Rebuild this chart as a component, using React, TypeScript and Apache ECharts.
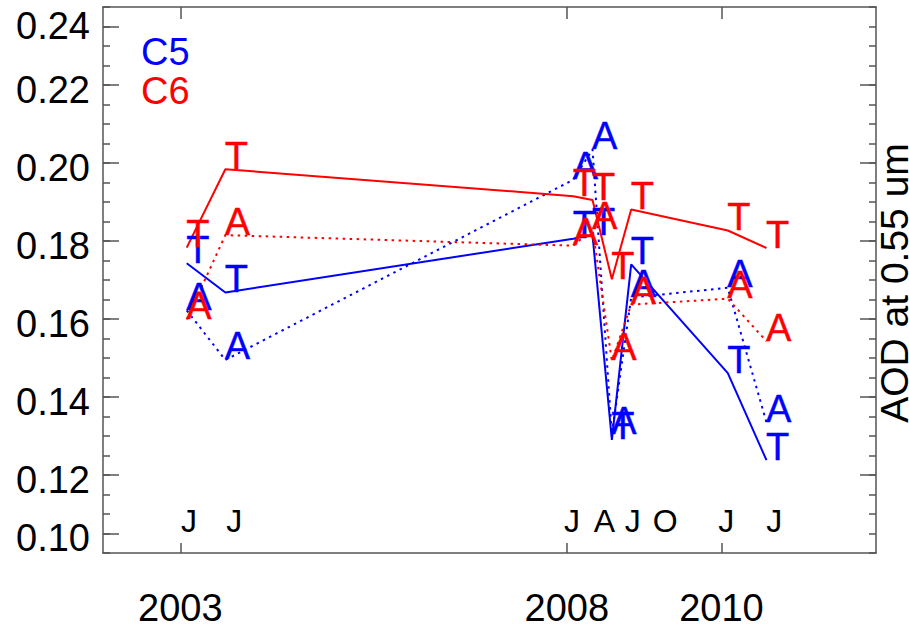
import React, { useEffect, useRef } from "react";
import * as echarts from "echarts";

// ---- data ----
const DATES = [2003.083, 2003.583, 2008.083, 2008.333, 2008.583, 2008.833, 2010.083, 2010.583];
const C5_T = [0.1743, 0.1668, 0.1806, 0.1815, 0.129, 0.174, 0.1461, 0.1238];
const C5_A = [0.1622, 0.1495, 0.1957, 0.2035, 0.1305, 0.1655, 0.168, 0.1335];
const C6_T = [0.1783, 0.1984, 0.1915, 0.1905, 0.1702, 0.1881, 0.1827, 0.1782];
const C6_A = [0.1599, 0.1815, 0.1788, 0.183, 0.1493, 0.1637, 0.1652, 0.1543];

const X_TICKS = [2003, 2008, 2010];
const Y_MAJOR_LEFT = [0.105, 0.12, 0.14, 0.16, 0.18, 0.2, 0.22, 0.235];
const Y_MAJOR_RIGHT = [0.12, 0.14, 0.16, 0.18, 0.2, 0.22];
const Y_LABEL_POS = [0.1038, 0.1188, 0.1388, 0.1588, 0.1788, 0.1988, 0.2188, 0.2352];
const Y_LABEL_TEXT = ["0.10", "0.12", "0.14", "0.16", "0.18", "0.20", "0.22", "0.24"];

const MONTH_X = [2003.12, 2003.705, 2008.075, 2008.492, 2008.86, 2009.28, 2010.07, 2010.69];
const MONTH_TEXT = ["J", "J", "J", "A", "J", "O", "J", "J"];
const MONTH_Y = 0.1053;

const BLUE = "#0000ff";
const RED = "#ff0000";
const FONT = "'Liberation Sans', Arial, Helvetica, sans-serif";
const AXIS_COLOR = "#555555";

function pts(vals: number[]) {
  return DATES.map((d, i) => [d, vals[i]]);
}

function lineSeries(name: string, vals: number[], color: string, dotted: boolean) {
  return {
    name,
    type: "line",
    data: pts(vals),
    showSymbol: false,
    symbol: "none",
    lineStyle: { color, width: 2, type: dotted ? [2.5, 4.5] : "solid" },
    xAxisIndex: 0,
    yAxisIndex: 0,
    z: 2,
  };
}

function letterSeries(name: string, vals: number[], color: string, letter: string) {
  return {
    name,
    type: "scatter",
    data: pts(vals),
    symbolSize: 1,
    itemStyle: { color: "transparent", opacity: 1 },
    xAxisIndex: 0,
    yAxisIndex: 0,
    z: 5,
    label: {
      show: true,
      formatter: () => letter,
      position: [0, 0],
      align: "left",
      verticalAlign: "bottom",
      offset: [0, 6],
      color,
      opacity: 1,
      fontSize: 38,
      fontFamily: FONT,
      textBorderWidth: 0.4,
      textBorderColor: color,
    },
  };
}

export default function App() {
  const ref = useRef<HTMLDivElement>(null);
  useEffect(() => {
    if (!ref.current) return;
    const chart = echarts.init(ref.current, undefined, { renderer: "svg" });
    const tickStyle = { color: AXIS_COLOR, width: 1.5 };
    const lineStyleAxis = { show: true, onZero: false, lineStyle: { color: AXIS_COLOR, width: 1.5 } };
    const option: any = {
      animation: false,
      grid: { left: 103, right: 33, top: 7, bottom: 74 },
      xAxis: [
        {
          type: "value",
          min: 2002,
          max: 2012,
          position: "bottom",
          splitLine: { show: false },
          axisLine: lineStyleAxis,
          axisTick: { show: true, inside: true, length: 10, customValues: X_TICKS, lineStyle: tickStyle },
          axisLabel: {
            show: true,
            customValues: X_TICKS,
            formatter: (v: number) => String(Math.round(v)),
            fontSize: 38,
            color: "#000",
            margin: 36,
            fontFamily: FONT,
          },
        },
        {
          type: "value",
          min: 2002,
          max: 2012,
          position: "top",
          splitLine: { show: false },
          axisLine: lineStyleAxis,
          axisTick: { show: true, inside: true, length: 12, customValues: X_TICKS, lineStyle: tickStyle },
          axisLabel: { show: false },
        },
      ],
      yAxis: [
        {
          type: "value",
          min: 0.1,
          max: 0.24,
          position: "left",
          splitLine: { show: false },
          axisLine: lineStyleAxis,
          axisTick: { show: true, inside: true, length: 16, customValues: Y_MAJOR_LEFT, lineStyle: tickStyle },
          axisLabel: {
            show: true,
            customValues: Y_LABEL_POS,
            formatter: (v: number) => {
              let best = 0;
              Y_LABEL_POS.forEach((p, i) => {
                if (Math.abs(p - v) < Math.abs(Y_LABEL_POS[best] - v)) best = i;
              });
              return Y_LABEL_TEXT[best];
            },
            fontSize: 38,
            color: "#000",
            margin: 13,
            fontFamily: FONT,
          },
        },
        {
          type: "value",
          min: 0.1,
          max: 0.24,
          interval: 0.005,
          position: "left",
          splitLine: { show: false },
          axisLine: { show: false },
          axisTick: { show: true, inside: true, length: 7, lineStyle: tickStyle },
          axisLabel: { show: false },
        },
        {
          type: "value",
          min: 0.1,
          max: 0.24,
          position: "right",
          splitLine: { show: false },
          axisLine: lineStyleAxis,
          axisTick: { show: true, inside: true, length: 16, customValues: Y_MAJOR_RIGHT, lineStyle: tickStyle },
          axisLabel: { show: false },
        },
        {
          type: "value",
          min: 0.1,
          max: 0.24,
          interval: 0.005,
          position: "right",
          splitLine: { show: false },
          axisLine: { show: false },
          axisTick: { show: true, inside: true, length: 7, lineStyle: tickStyle },
          axisLabel: { show: false },
        },
      ],
      series: [
        lineSeries("C5 T", C5_T, BLUE, false),
        lineSeries("C5 A", C5_A, BLUE, true),
        lineSeries("C6 T", C6_T, RED, false),
        lineSeries("C6 A", C6_A, RED, true),
        letterSeries("C5 T letters", C5_T, BLUE, "T"),
        letterSeries("C5 A letters", C5_A, BLUE, "A"),
        letterSeries("C6 T letters", C6_T, RED, "T"),
        letterSeries("C6 A letters", C6_A, RED, "A"),
        {
          name: "months",
          type: "scatter",
          data: MONTH_X.map((x) => [x, MONTH_Y]),
          symbolSize: 1,
          itemStyle: { color: "transparent", opacity: 1 },
          xAxisIndex: 0,
          yAxisIndex: 0,
          label: {
            show: true,
            formatter: (p: any) => MONTH_TEXT[p.dataIndex],
            position: [0, 0],
            align: "center",
            verticalAlign: "bottom",
            offset: [0, 5],
            color: "#000",
            opacity: 1,
            fontSize: 32,
            fontFamily: FONT,
          },
        },
      ],
      graphic: [
        {
          type: "text",
          left: 141,
          top: 33,
          style: { text: "C5", fill: BLUE, fontSize: 38, fontFamily: FONT },
        },
        {
          type: "text",
          left: 141,
          top: 72,
          style: { text: "C6", fill: RED, fontSize: 38, fontFamily: FONT },
        },
        {
          type: "text",
          x: 894,
          y: 283,
          rotation: Math.PI / 2,
          style: {
            text: "AOD at 0.55 um",
            fill: "#000",
            fontSize: 39,
            fontFamily: FONT,
            align: "center",
            verticalAlign: "middle",
          },
        },
      ],
    };
    chart.setOption(option);
    return () => chart.dispose();
  }, []);
  return (
    <div
      ref={ref}
      style={{ position: "absolute", left: 0, top: 0, width: 909, height: 627, background: "#fff" }}
    />
  );
}
